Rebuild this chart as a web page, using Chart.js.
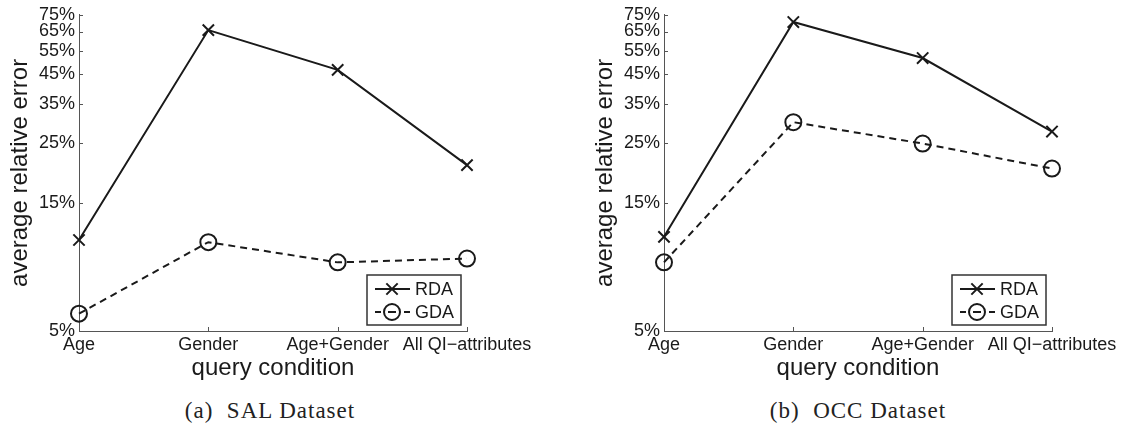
<!DOCTYPE html>
<html>
<head>
<meta charset="utf-8">
<script src="https://cdn.jsdelivr.net/npm/chart.js@4.4.1/dist/chart.umd.min.js"></script>
<style>
    body { margin: 0; background: #fff; width: 1131px; height: 432px; position: relative; overflow: hidden; }
    .panel { position: absolute; top: 0; }
    .caption { position: absolute; top: 398px; width: 300px; text-align: center; font-family: "Liberation Serif", serif; font-size: 23px; letter-spacing: 1px; color: #222; }
</style>
</head>
<body>
<div class="panel" style="left:0px"><canvas id="salChart" width="546" height="395"></canvas></div>
<div class="panel" style="left:585px"><canvas id="occChart" width="546" height="395"></canvas></div>
<div class="caption" style="left:120px">(a)&nbsp; SAL Dataset</div>
<div class="caption" style="left:708px">(b)&nbsp; OCC Dataset</div>

<script>
const categories = ['Age', 'Gender', 'Age+Gender', 'All QI\u2212attributes'];
const yTicks = [5, 15, 25, 35, 45, 55, 65, 75];

// values in percent
const salRda = [10.9, 65.8, 46.8, 20.7];
const salGda = [5.8, 10.7, 9.0, 9.3];
const occRda = [11.2, 70.5, 51.8, 27.6];
const occGda = [9.0, 29.9, 24.9, 20.1];

const ink = '#1a1a1a';
const axisColor = '#555';
const sans = 'Liberation Sans, Arial, Helvetica, sans-serif';

// matlab style ticks pointing into the plot
const innerTicks = {
    id: 'innerTicks',
    afterDraw(chart) {
        const ctx = chart.ctx;
        const x = chart.scales.x;
        const y = chart.scales.y;
        const area = chart.chartArea;
        ctx.save();
        ctx.strokeStyle = axisColor;
        ctx.lineWidth = 1;
        ctx.beginPath();
        categories.forEach((c, i) => {
            const px = Math.round(x.getPixelForValue(i)) + 0.5;
            ctx.moveTo(px, area.bottom);
            ctx.lineTo(px, area.bottom - 4);
        });
        yTicks.forEach(v => {
            const py = Math.round(y.getPixelForValue(v)) + 0.5;
            ctx.moveTo(area.left, py);
            ctx.lineTo(area.left + 4, py);
        });
        ctx.stroke();
        ctx.restore();
    }
};

// boxed legend in the lower right corner, samples drawn with the dataset styles
const boxLegend = {
    id: 'boxLegend',
    afterDraw(chart) {
        const ctx = chart.ctx;
        const area = chart.chartArea;
        const w = 94, h = 50;
        const left = area.right - 6 - w;
        const top = area.bottom - 6 - h;
        ctx.save();
        ctx.fillStyle = '#fff';
        ctx.fillRect(left, top, w, h);
        ctx.strokeStyle = '#333';
        ctx.lineWidth = 1.5;
        ctx.strokeRect(left, top, w, h);

        chart.data.datasets.forEach((ds, i) => {
            const cy = top + 14 + i * 23;
            const x0 = left + 8, x1 = left + 43, mid = left + 25;
            ctx.strokeStyle = ds.borderColor;
            ctx.lineWidth = ds.borderWidth;
            ctx.beginPath();
            if (ds.borderDash) {
                ctx.moveTo(x0, cy); ctx.lineTo(x0 + 6, cy);
                ctx.moveTo(x1 - 6, cy); ctx.lineTo(x1, cy);
                ctx.moveTo(mid - 4, cy); ctx.lineTo(mid + 4, cy);
            } else {
                ctx.moveTo(x0, cy); ctx.lineTo(x1, cy);
            }
            ctx.stroke();
            ctx.fillStyle = 'rgba(0,0,0,0)';
            ctx.strokeStyle = ds.pointBorderColor;
            ctx.lineWidth = ds.pointBorderWidth;
            Chart.helpers.drawPoint(ctx, {
                pointStyle: ds.pointStyle,
                radius: ds.pointRadius,
                borderWidth: ds.pointBorderWidth,
                rotation: 0
            }, mid, cy);
            ctx.fillStyle = '#1a1a1a';
            ctx.font = '18px ' + sans;
            ctx.textBaseline = 'middle';
            ctx.fillText(ds.label, left + 48, cy + 1);
        });
        ctx.restore();
    }
};

function makeChart(id, rda, gda) {
    const ctx = document.getElementById(id).getContext('2d');
    return new Chart(ctx, {
        type: 'line',
        data: {
            labels: categories,
            datasets: [{
                label: 'RDA',
                data: rda,
                borderColor: ink,
                borderWidth: 2,
                pointStyle: 'crossRot',
                pointRadius: 8,
                pointBorderWidth: 2,
                pointBorderColor: ink,
                pointBackgroundColor: 'transparent',
                tension: 0
            }, {
                label: 'GDA',
                data: gda,
                borderColor: ink,
                borderWidth: 2,
                borderDash: [7, 5],
                pointStyle: 'circle',
                pointRadius: 8,
                pointBorderWidth: 2,
                pointBorderColor: ink,
                pointBackgroundColor: 'transparent',
                tension: 0
            }]
        },
        options: {
            responsive: false,
            animation: false,
            devicePixelRatio: 1,
            layout: { padding: { left: 0, right: 79, top: 14, bottom: 12 } },
            plugins: {
                legend: { display: false },
                tooltip: { enabled: false }
            },
            scales: {
                x: {
                    type: 'category',
                    offset: false,
                    grid: { display: false, drawTicks: false },
                    border: { color: axisColor, width: 1 },
                    ticks: { color: '#1a1a1a', font: { family: sans, size: 18 }, padding: 3, maxRotation: 0, autoSkip: false },
                    title: { display: true, text: 'query condition', color: '#1a1a1a', font: { family: sans, size: 24 }, padding: { top: 0, bottom: 0 } },
                    afterFit: scale => { scale.height = 52; }
                },
                y: {
                    type: 'logarithmic',
                    min: 5,
                    max: 75,
                    afterBuildTicks: scale => { scale.ticks = yTicks.map(v => ({ value: v })); },
                    grid: { display: false, drawTicks: false },
                    border: { color: axisColor, width: 1 },
                    ticks: { color: '#1a1a1a', font: { family: sans, size: 18 }, padding: 4, callback: v => v + '%' },
                    title: { display: true, text: 'average relative error', color: '#1a1a1a', font: { family: sans, size: 24 }, padding: { top: 6, bottom: 0 } },
                    afterFit: scale => { scale.width = 79; }
                }
            }
        },
        plugins: [innerTicks, boxLegend]
    });
}

makeChart('salChart', salRda, salGda);
makeChart('occChart', occRda, occGda);
</script>
</body>
</html>
